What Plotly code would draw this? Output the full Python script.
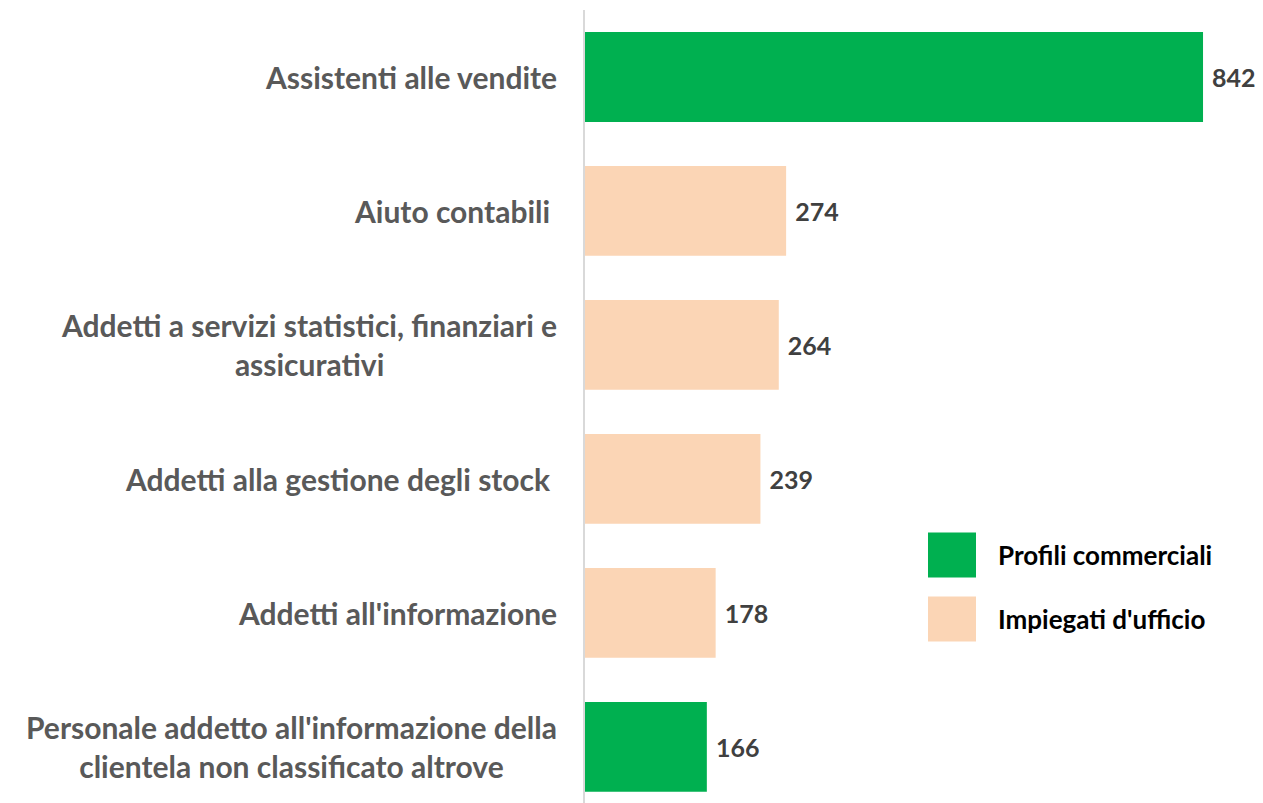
import plotly.graph_objects as go

categories = [
    "Assistenti alle vendite",
    "Aiuto contabili ",
    "Addetti a servizi statistici, finanziari e<br>assicurativi",
    "Addetti alla gestione degli stock ",
    "Addetti all'informazione",
    "Personale addetto all'informazione della<br>clientela non classificato altrove",
]
values = [842, 274, 264, 239, 178, 166]
groups = ["Profili commerciali", "Impiegati d'ufficio", "Impiegati d'ufficio",
          "Impiegati d'ufficio", "Impiegati d'ufficio", "Profili commerciali"]
group_names = ["Profili commerciali", "Impiegati d'ufficio"]
group_colors = {"Profili commerciali": "#00B050", "Impiegati d'ufficio": "#FBD5B5"}

FONT = "Lato"
PW, PH = 686, 801  # plot area size in px

fig = go.Figure()
fig.add_trace(go.Bar(
    x=values, y=categories, orientation="h",
    marker=dict(color=[group_colors[g] for g in groups], line=dict(width=0)),
    text=["\u00a0" + str(v) for v in values], textposition="outside",
    textfont=dict(family=FONT, size=25, color="#404040", weight="bold"),
    cliponaxis=False, showlegend=False, hoverinfo="skip",
))

# category labels as centred annotations
for c in categories:
    fig.add_annotation(x=0, xref="paper", y=c, yref="y", text="<b>" + c + "</b>",
                       xanchor="right", yanchor="middle", align="center", xshift=-26,
                       showarrow=False, font=dict(family=FONT, size=30, color="#595959"))

# custom legend
leg_centers = [555, 619]
for name, cy in zip(group_names, leg_centers):
    yy = (811 - cy) / PH
    fig.add_shape(type="rect", xref="paper", yref="paper",
                  x0=(928 - 585) / PW, x1=(976 - 585) / PW,
                  y0=yy - 22.5 / PH, y1=yy + 22.5 / PH,
                  fillcolor=group_colors[name], line=dict(width=0))
    fig.add_annotation(x=(996 - 585) / PW, xref="paper", y=yy, yref="paper",
                       text="<b>" + name + "</b>", showarrow=False,
                       xanchor="left", yanchor="middle",
                       font=dict(family=FONT, size=26, color="#000000"))

fig.update_layout(
    width=1263, height=803,
    margin=dict(l=577, r=0, t=2, b=0),
    paper_bgcolor="white", plot_bgcolor="white",
    bargap=0.33,
    xaxis=dict(range=[0, PW / 0.734], visible=False),
    yaxis=dict(type="category", range=[5.478, -0.5], showticklabels=False,
               showline=True, linecolor="#D9D9D9", linewidth=2, showgrid=False,
               zeroline=False, ticks=""),
)
fig.write_html("out.html")
